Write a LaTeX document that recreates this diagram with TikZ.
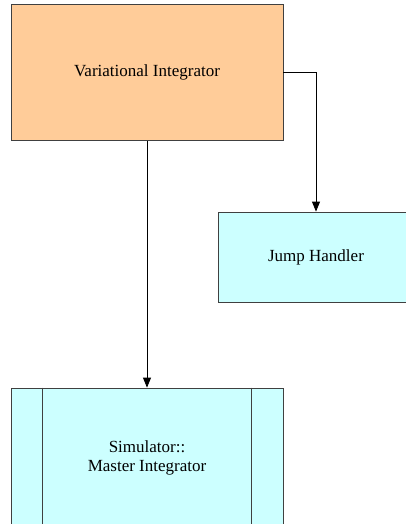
\documentclass[tikz,border=0pt]{standalone}
\usepackage{fontspec}
\setmainfont{Liberation Serif}
\usetikzlibrary{arrows.meta}
\begin{document}
\begin{tikzpicture}[x=1pt,y=-1pt,
  box/.style={draw=black!75, line width=0.8pt, inner sep=0pt, font=\fontsize{17}{19}\selectfont, align=center},
  conn/.style={draw=black, line width=0.8pt, -{Triangle[length=10pt,width=8pt]}}]
\useasboundingbox (0,0) rectangle (405,524);
\node[box, fill={rgb,255:red,255;green,204;blue,153}, minimum width=272pt, minimum height=136pt] (vi) at (147,72.5) {Variational Integrator};
\node[box, fill={rgb,255:red,204;green,255;blue,255}, minimum width=196pt, minimum height=90pt] (jh) at (316,257) {Jump Handler};
\node[box, fill={rgb,255:red,204;green,255;blue,255}, minimum width=272pt, minimum height=140pt] (mi) at (147,458) {Simulator::\\Master Integrator};
\draw[black!75, line width=0.8pt] ([xshift=32pt]mi.north west) -- ([xshift=32pt]mi.south west);
\draw[black!75, line width=0.8pt] ([xshift=-32pt]mi.north east) -- ([xshift=-32pt]mi.south east);
\draw[conn] (vi.south) -- (mi.north);
\draw[conn] (vi.east) -| (jh.north);
\end{tikzpicture}
\end{document}
